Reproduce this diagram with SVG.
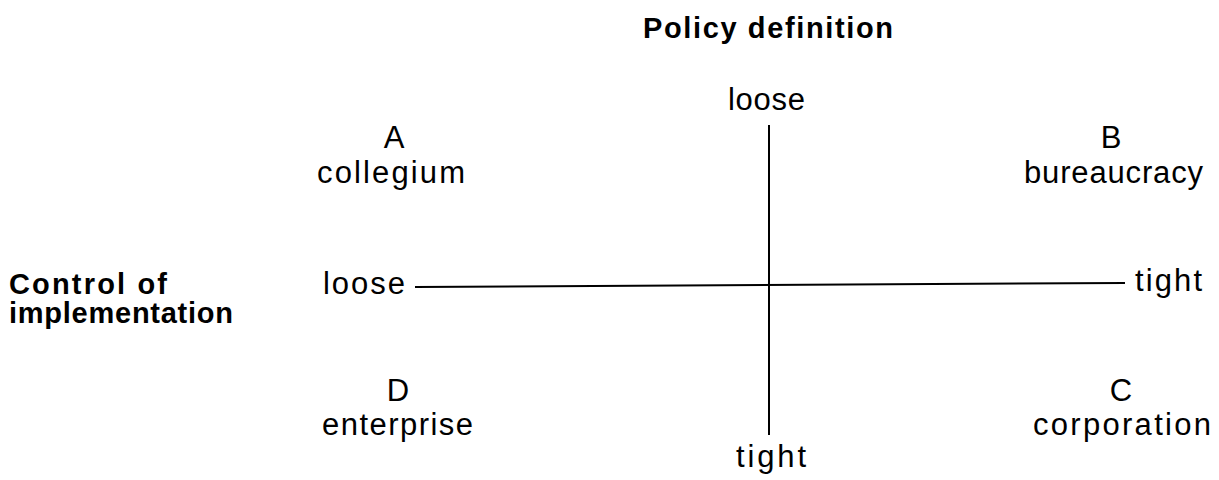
<svg xmlns="http://www.w3.org/2000/svg" width="1219" height="480" viewBox="0 0 1219 480">
<style>
.t{font-family:"Liberation Sans",Arial,sans-serif;font-size:31px;fill:#000}
.m{text-anchor:middle}
.b{font-family:"Liberation Sans",Arial,sans-serif;font-size:29px;font-weight:bold;fill:#000}
.ax{stroke:#000;stroke-width:2;fill:none}
</style>
<rect width="1219" height="480" fill="#fff"/>
<g id="title"><text class="b" x="643" y="38" textLength="250" lengthAdjust="spacing">Policy definition</text></g>
<g id="axis-label"><text class="b" x="9" y="294" textLength="158" lengthAdjust="spacing">Control of</text><text class="b" x="9" y="323" textLength="224" lengthAdjust="spacing">implementation</text></g>
<g id="connectors">
<line class="ax" x1="769" y1="125" x2="769" y2="435"/>
<line class="ax" x1="415" y1="287" x2="1125" y2="283"/>
</g>
<g id="v-loose"><text class="t" x="728" y="110" textLength="77" lengthAdjust="spacing">loose</text></g>
<g id="v-tight"><text class="t" x="736" y="467" textLength="70" lengthAdjust="spacing">tight</text></g>
<g id="h-loose"><text class="t" x="323" y="294" textLength="82" lengthAdjust="spacing">loose</text></g>
<g id="h-tight"><text class="t" x="1135" y="291" textLength="67" lengthAdjust="spacing">tight</text></g>
<g id="A"><text class="t m" x="394" y="148">A</text><text class="t" x="317" y="183" textLength="148" lengthAdjust="spacing">collegium</text></g>
<g id="B"><text class="t m" x="1111" y="148">B</text><text class="t" x="1024" y="183" textLength="179" lengthAdjust="spacing">bureaucracy</text></g>
<g id="D"><text class="t m" x="398" y="401">D</text><text class="t" x="322" y="435" textLength="151" lengthAdjust="spacing">enterprise</text></g>
<g id="C"><text class="t m" x="1121" y="401">C</text><text class="t" x="1033" y="435" textLength="178" lengthAdjust="spacing">corporation</text></g>
</svg>
